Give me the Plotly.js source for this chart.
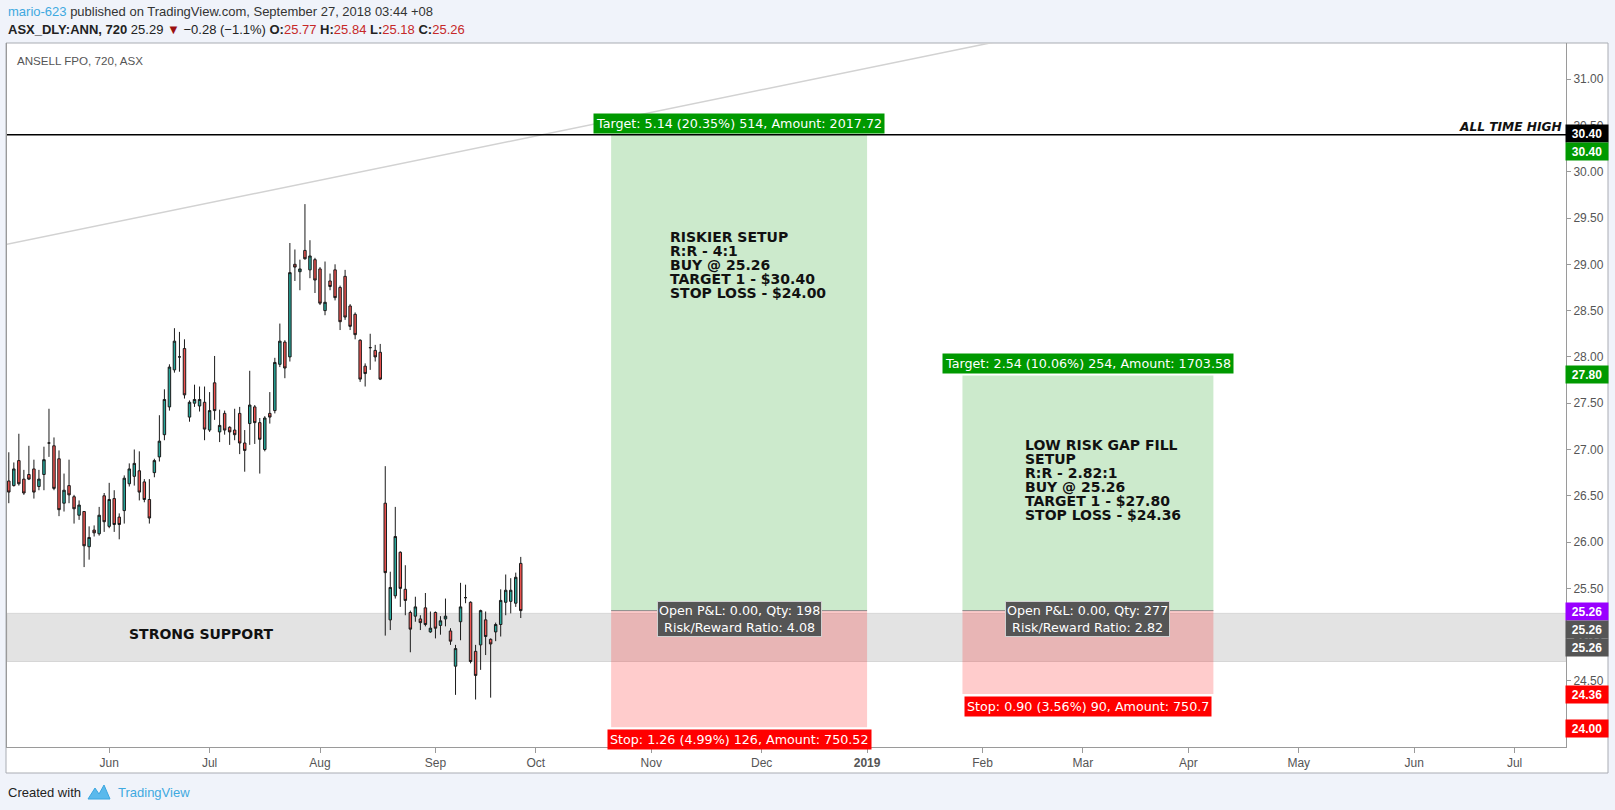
<!DOCTYPE html>
<html><head><meta charset="utf-8">
<script src="https://cdn.plot.ly/plotly-3.0.1.min.js"></script>
<style>html,body{margin:0;padding:0;background:#f0f3fa;} #chart{width:1615px;height:810px;}</style>
</head><body><div id="chart"></div>
<script>
// ---------------- DATA ----------------
const dates = [
'2018-05-04','2018-05-07','2018-05-08','2018-05-09','2018-05-10','2018-05-11','2018-05-14','2018-05-15','2018-05-16','2018-05-17',
'2018-05-18','2018-05-21','2018-05-22','2018-05-23','2018-05-24','2018-05-25','2018-05-28','2018-05-29','2018-05-30','2018-05-31',
'2018-06-01','2018-06-04','2018-06-05','2018-06-06','2018-06-07','2018-06-08','2018-06-12','2018-06-13','2018-06-14','2018-06-15',
'2018-06-18','2018-06-19','2018-06-20','2018-06-21','2018-06-22','2018-06-25','2018-06-26','2018-06-27','2018-06-28','2018-06-29',
'2018-07-02','2018-07-03','2018-07-04','2018-07-05','2018-07-06','2018-07-09','2018-07-10','2018-07-11','2018-07-12','2018-07-13',
'2018-07-16','2018-07-17','2018-07-18','2018-07-19','2018-07-20','2018-07-23','2018-07-24','2018-07-25','2018-07-26','2018-07-27',
'2018-07-30','2018-07-31','2018-08-01','2018-08-02','2018-08-03','2018-08-06','2018-08-07','2018-08-08','2018-08-09','2018-08-10',
'2018-08-13','2018-08-14','2018-08-15','2018-08-16','2018-08-17','2018-08-20','2018-08-21','2018-08-22','2018-08-23','2018-08-24',
'2018-08-27','2018-08-28','2018-08-29','2018-08-30','2018-08-31','2018-09-03','2018-09-04','2018-09-05','2018-09-06','2018-09-07',
'2018-09-10','2018-09-11','2018-09-12','2018-09-13','2018-09-14','2018-09-17','2018-09-18','2018-09-19','2018-09-20','2018-09-21',
'2018-09-24','2018-09-25','2018-09-26'];
const opens = [
26.66,26.61,26.88,26.68,26.73,26.79,26.60,26.73,27.07,27.04,
26.90,26.42,26.61,26.49,26.29,26.33,25.95,26.13,26.09,26.50,
26.17,26.47,26.27,26.34,26.63,26.71,26.77,26.65,26.46,26.75,
26.92,27.16,27.46,27.86,28.00,28.09,27.35,27.50,27.47,27.51,
27.21,27.72,27.19,27.39,27.24,27.21,27.39,27.07,27.28,27.46,
27.29,27.00,27.39,27.42,27.92,28.16,28.00,29.00,28.92,29.15,
28.94,29.05,28.95,28.50,28.82,28.94,28.75,28.87,28.55,28.46,
28.18,27.90,28.10,28.07,28.05,26.42,25.16,25.42,25.89,25.49,
25.24,25.20,25.17,25.29,25.03,25.24,25.10,25.17,25.04,24.66,
25.14,25.40,25.35,24.82,24.89,25.16,24.95,25.03,25.11,25.35,
25.36,25.34,25.77];
const highs = [
26.97,26.86,27.17,26.78,27.04,26.89,26.78,27.03,27.44,27.13,
26.99,26.74,26.89,26.51,26.45,26.33,26.17,26.18,26.38,26.53,
26.64,26.56,26.31,26.72,26.85,27.00,26.98,26.68,26.68,26.90,
27.37,27.65,27.92,28.31,28.27,28.19,27.53,27.70,27.68,27.68,
27.62,28.01,27.43,27.42,27.25,27.44,27.46,27.21,27.85,27.48,
27.34,27.36,27.62,27.99,28.36,28.18,29.23,29.16,29.05,29.65,
29.26,29.07,28.97,29.03,28.90,29.00,28.77,28.94,28.57,28.48,
28.19,27.93,28.25,28.13,28.14,26.82,25.68,26.38,25.90,25.75,
25.26,25.41,25.21,25.45,25.25,25.25,25.20,25.39,25.07,24.89,
25.56,25.54,25.36,24.89,25.27,25.25,24.96,25.13,25.49,25.65,
25.61,25.67,25.84];
const lows = [
26.42,26.60,26.61,26.51,26.67,26.47,26.56,26.56,26.92,26.56,
26.28,26.33,26.42,26.20,26.24,25.73,25.81,26.06,26.07,26.11,
26.15,26.11,26.03,26.20,26.60,26.61,26.45,26.43,26.20,26.70,
26.87,27.10,27.42,27.83,27.84,27.55,27.30,27.46,27.41,27.10,
27.19,27.32,27.08,27.16,27.05,27.10,26.95,26.76,27.05,27.06,
26.74,26.98,27.28,27.39,27.89,27.77,27.95,28.82,28.72,29.05,
28.85,28.69,28.56,28.45,28.72,28.61,28.29,28.40,28.29,28.19,
27.73,27.68,27.86,27.95,27.75,24.99,25.05,25.39,25.30,25.21,
24.81,25.14,25.05,25.09,25.02,24.96,25.00,25.09,24.89,24.35,
24.94,25.34,24.69,24.30,24.62,24.78,24.32,24.93,24.98,25.21,
25.23,25.30,25.18];
const closes = [
26.54,26.79,26.63,26.53,26.68,26.54,26.68,26.89,27.07,26.58,
26.35,26.56,26.51,26.36,26.40,25.96,26.05,26.10,26.29,26.22,
26.46,26.19,26.19,26.69,26.79,26.85,26.54,26.46,26.26,26.88,
27.09,27.54,27.89,28.17,28.00,27.59,27.51,27.54,27.54,27.22,
27.42,27.42,27.26,27.21,27.19,27.16,27.07,26.99,27.48,27.29,
27.11,27.34,27.35,27.94,28.17,27.88,28.91,28.97,28.95,29.06,
29.09,28.83,28.58,28.59,28.76,28.64,28.38,28.43,28.33,28.24,
27.76,27.82,28.10,28.00,27.76,25.67,25.51,26.06,25.50,25.37,
25.06,25.30,25.13,25.11,25.07,25.07,25.15,25.20,24.93,24.85,
25.30,25.40,24.71,24.56,25.26,24.98,24.90,25.11,25.37,25.48,
25.48,25.62,25.26];

const monthTickDates = ['2018-06-01','2018-07-02','2018-08-01','2018-09-03','2018-10-01','2018-11-01','2018-12-03',
  '2019-01-01','2019-02-01','2019-03-01','2019-04-01','2019-05-01','2019-06-03','2019-07-01'];
const monthTickLabels = ['Jun','Jul','Aug','Sep','Oct','Nov','Dec','<b>2019</b>','Feb','Mar','Apr','May','Jun','Jul'];
const axisHolidays = ['2018-06-11'];

const athPrice = 30.40;
const athText = 'ALL TIME HIGH';
const supportLow = 24.71;
const supportHigh = 25.23;
const supportText = 'STRONG SUPPORT';
const trendDates = ['2018-05-03', '2019-02-11'];
const trendPrices = [29.21, 31.44];

const posStart = ['2018-10-22', '2019-01-28'];
const posEnd = ['2019-01-01', '2019-04-08'];
const posEntry = [25.26, 25.26];
const posTarget = [30.40, 27.80];
const posStop = [24.00, 24.36];
const posTargetText = ['Target: 5.14 (20.35%) 514, Amount: 2017.72', 'Target: 2.54 (10.06%) 254, Amount: 1703.58'];
const posCenterText = ['Open P&L: 0.00, Qty: 198<br>Risk/Reward Ratio: 4.08', 'Open P&L: 0.00, Qty: 277<br>Risk/Reward Ratio: 2.82'];
const posStopText = ['Stop: 1.26 (4.99%) 126, Amount: 750.52', 'Stop: 0.90 (3.56%) 90, Amount: 750.7'];
const posNotes = [
  ['RISKIER SETUP', 'R:R - 4:1', 'BUY @ 25.26', 'TARGET 1 - $30.40', 'STOP LOSS - $24.00'],
  ['LOW RISK GAP FILL', 'SETUP', 'R:R - 2.82:1', 'BUY @ 25.26', 'TARGET 1 - $27.80', 'STOP LOSS - $24.36']
];

const axisLabelPrices = [30.40, 30.40, 27.80, 25.26, 25.26, 25.26, 24.36, 24.00];
const axisLabelTexts = ['30.40', '30.40', '27.80', '25.26', '25.26', '25.26', '24.36', '24.00'];

const headerUser = 'mario-623';
const headerPublished = ' published on TradingView.com, September 27, 2018 03:44 +08';
const headerSymbol = 'ASX_DLY:ANN, 720';
const headerLast = '25.29';
const headerChange = '\u22120.28 (\u22121.1%)';
const ohlcLabels = ['O:', 'H:', 'L:', 'C:'];
const ohlcValues = ['25.77', '25.84', '25.18', '25.26'];
const chartTitle = 'ANSELL FPO, 720, ASX';

// ---------------- STYLE / GEOMETRY ----------------
const axisLabelColors = ['#000000', '#009900', '#009900', '#9900ff', '#555555', '#555555', '#ff0000', '#ff0000'];
const axisLabelShift = [1, -17, 1, -1, -19, -37, -1, -1];
const PL = 7, PR = 1566, PT = 43, PB = 747, FW = 1615, FH = 810;
const PW = PR - PL, PH = PB - PT;
const px = v => (v - PL) / PW;
const py = v => 1 - (v - PT) / PH;

function parseD(s){ const a = s.split('-').map(Number); return Date.UTC(a[0], a[1]-1, a[2]); }
function fmt(ms){ return new Date(ms).toISOString().slice(0,16).replace('T',' '); }
function isWd(ms){ const d = new Date(ms).getUTCDay(); return d !== 0 && d !== 6; }
function tradingDaysBetween(a, b){ let n = 0, t = parseD(a); const e = parseD(b); while (t < e){ t += 864e5; if (isWd(t)) n++; } return n; }
function addTradingDays(a, x){ let t = parseD(a); let w = Math.floor(x); const f = x - w; while (w > 0){ t += 864e5; if (isWd(t)) w--; } return fmt(t + f*864e5); }

const traces = [];
traces.push({
  type: 'scatter', mode: 'lines', x: trendDates, y: trendPrices,
  line: {color: '#d2d2d2', width: 1.5}, hoverinfo: 'skip', showlegend: false
});
traces.push({
  type: 'candlestick', x: dates, open: opens, high: highs, low: lows, close: closes,
  increasing: {line: {color: '#1b1b1b', width: 1}, fillcolor: '#26a69a'},
  decreasing: {line: {color: '#1b1b1b', width: 1}, fillcolor: '#ef5350'},
  whiskerwidth: 0, showlegend: false, hoverinfo: 'skip'
});

const shapes = [];
shapes.push({type: 'rect', xref: 'paper', yref: 'paper', x0: px(6), x1: px(1608), y0: py(43), y1: py(773),
  fillcolor: '#ffffff', line: {color: '#a9acb3', width: 1}, layer: 'below'});
shapes.push({type: 'rect', xref: 'paper', yref: 'y', x0: 0, x1: 1, y0: supportLow, y1: supportHigh,
  fillcolor: '#e3e3e3', line: {color: '#d6d6d6', width: 1}, layer: 'below'});
for (let i = 0; i < posStart.length; i++){
  shapes.push({type: 'rect', xref: 'x', yref: 'y', x0: posStart[i], x1: posEnd[i], y0: posEntry[i], y1: posTarget[i],
    fillcolor: 'rgba(0,150,0,0.2)', line: {width: 0}, layer: 'below'});
  shapes.push({type: 'rect', xref: 'x', yref: 'y', x0: posStart[i], x1: posEnd[i], y0: posStop[i], y1: posEntry[i],
    fillcolor: 'rgba(255,0,0,0.2)', line: {width: 0}, layer: 'below'});
  shapes.push({type: 'line', xref: 'x', yref: 'y', x0: posStart[i], x1: posEnd[i], y0: posEntry[i], y1: posEntry[i],
    line: {color: '#8a8a8a', width: 1}, layer: 'below'});
}
shapes.push({type: 'line', xref: 'paper', yref: 'y', x0: 0, x1: 1, y0: athPrice, y1: athPrice,
  line: {color: '#000000', width: 1.5}});
shapes.push({type: 'path', xref: 'paper', yref: 'paper',
  path: `M ${px(88)},${py(799)} L ${px(95)},${py(788)} L ${px(99)},${py(794)} L ${px(104)},${py(785)} L ${px(110)},${py(799)} Z`,
  fillcolor: '#5ab9ec', line: {color: '#3aa6e0', width: 1}});

const ann = [];
const labFont = {family: 'DejaVu Sans', size: 12.7, color: '#ffffff'};
for (let i = 0; i < posStart.length; i++){
  const n = tradingDaysBetween(posStart[i], posEnd[i]);
  const mid = addTradingDays(posStart[i], n/2);
  ann.push({x: mid, y: posTarget[i], xref: 'x', yref: 'y', text: posTargetText[i], showarrow: false,
    yanchor: 'bottom', yshift: 1, bgcolor: '#009900', borderpad: 2, font: labFont});
  ann.push({x: mid, y: posStop[i], xref: 'x', yref: 'y', text: posStopText[i], showarrow: false,
    yanchor: 'top', yshift: -2, bgcolor: '#ff0000', borderpad: 2, font: labFont});
  ann.push({x: mid, y: posEntry[i], xref: 'x', yref: 'y', text: posCenterText[i], showarrow: false,
    yanchor: 'middle', yshift: -8, bgcolor: '#555555', bordercolor: '#d0d0d0', borderwidth: 1, borderpad: 1, font: labFont});
}
const noteX = [57, 61];
const noteY = [-102, -70];
for (let i = 0; i < posNotes.length; i++){
  posNotes[i].forEach((line, j) => {
    ann.push({x: posStart[i], y: posTarget[i], xref: 'x', yref: 'y', text: '<b>' + line + '</b>', showarrow: false,
      xanchor: 'left', yanchor: 'middle', xshift: noteX[i], yshift: noteY[i] - 14*j,
      font: {family: 'DejaVu Sans', size: 14, color: '#111111'}});
  });
}
ann.push({x: px(1562), y: athPrice, xref: 'paper', yref: 'y', text: '<b><i>' + athText + '</i></b>', showarrow: false,
  xanchor: 'right', yanchor: 'bottom', align: 'right', xshift: 2, yshift: -1, font: {family: 'DejaVu Sans', size: 12.2, color: '#111111'}});
ann.push({x: px(201), y: (supportLow + supportHigh)/2, xref: 'paper', yref: 'y', text: '<b>' + supportText + '</b>', showarrow: false,
  xanchor: 'center', yanchor: 'middle', yshift: 3, font: {family: 'DejaVu Sans', size: 14, color: '#111111'}});
axisLabelPrices.forEach((p, i) => {
  ann.push({x: px(1587), y: p, xref: 'paper', yref: 'y', text: '<b>' + axisLabelTexts[i] + '</b>', showarrow: false,
    xanchor: 'center', yanchor: 'middle', yshift: axisLabelShift[i], width: 40, height: 15, borderpad: 1,
    bgcolor: axisLabelColors[i], font: {family: 'Liberation Sans', size: 12, color: '#ffffff'}});
});
ann.push({x: px(6), y: py(11), xref: 'paper', yref: 'paper', xanchor: 'left', yanchor: 'middle', showarrow: false,
  text: '<span style="color:#3fa9e0">' + headerUser + '</span>' + headerPublished,
  font: {family: 'Liberation Sans', size: 13, color: '#333333'}});
let ohlc = '';
ohlcLabels.forEach((l, i) => { ohlc += ' <b>' + l + '</b><span style="color:#c62828">' + ohlcValues[i] + '</span>'; });
ann.push({x: px(6), y: py(30), xref: 'paper', yref: 'paper', xanchor: 'left', yanchor: 'middle', showarrow: false,
  text: '<b>' + headerSymbol + '</b> ' + headerLast + ' <span style="color:#9b1010">\u25BC</span> ' + headerChange + ohlc,
  font: {family: 'Liberation Sans', size: 13, color: '#222222'}});
ann.push({x: px(15), y: py(60), xref: 'paper', yref: 'paper', xanchor: 'left', yanchor: 'middle', showarrow: false,
  text: chartTitle, font: {family: 'Liberation Sans', size: 11.6, color: '#555555'}});
ann.push({x: px(6), y: py(792), xref: 'paper', yref: 'paper', xanchor: 'left', yanchor: 'middle', showarrow: false,
  text: 'Created with', font: {family: 'Liberation Sans', size: 13, color: '#222222'}});
ann.push({x: px(116), y: py(792), xref: 'paper', yref: 'paper', xanchor: 'left', yanchor: 'middle', showarrow: false,
  text: 'TradingView', font: {family: 'Liberation Sans', size: 13, color: '#3fa9e0'}});

const layout = {
  width: FW, height: FH,
  margin: {l: PL, r: FW - PR, t: PT, b: FH - PB, pad: 0},
  paper_bgcolor: '#f0f3fa', plot_bgcolor: '#ffffff',
  showlegend: false,
  xaxis: {
    type: 'date', range: ['2018-05-03 15:20', '2019-07-15 06:00'],
    rangebreaks: [{bounds: ['sat', 'mon']}, {values: axisHolidays}],
    rangeslider: {visible: false},
    tickmode: 'array', tickvals: monthTickDates, ticktext: monthTickLabels,
    ticks: 'outside', ticklen: 5, tickcolor: '#9a9a9a',
    tickfont: {family: 'Liberation Sans', size: 12, color: '#555555'},
    showgrid: false, zeroline: false, showline: true, linecolor: '#9a9a9a', linewidth: 1
  },
  yaxis: {
    side: 'right', range: [23.787, 31.39], tick0: 0, dtick: 0.5, tickformat: '.2f',
    ticks: 'outside', ticklen: 4, tickcolor: '#9a9a9a',
    tickfont: {family: 'Liberation Sans', size: 12, color: '#555555'},
    showgrid: false, zeroline: false, showline: true, mirror: true, linecolor: '#9a9a9a', linewidth: 1
  },
  shapes: shapes,
  annotations: ann
};

Plotly.newPlot('chart', traces, layout, {staticPlot: true, displayModeBar: false});
</script>
</body></html>
